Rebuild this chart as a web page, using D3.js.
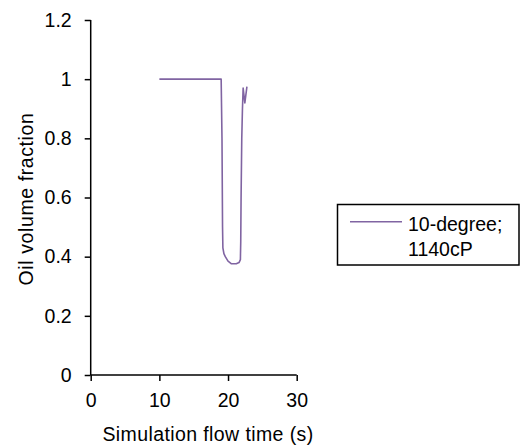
<!DOCTYPE html>
<html><head><meta charset="utf-8">
<script src="https://cdn.jsdelivr.net/npm/d3@7"></script>
<style>body{margin:0;background:#fff}svg{display:block}text{font-family:"Liberation Sans",Arial,sans-serif;fill:#000}</style>
</head><body><svg id="c" width="524" height="448"></svg>
<script>
const seriesName = ["10-degree;", "1140cP"];
const timeValues = [10, 19.0, 19.12, 19.2, 19.25, 19.4, 19.6, 20.0, 20.5, 21.2, 21.6, 21.8, 21.85, 21.9, 22.0, 22.1, 22.2, 22.45, 22.75];
const oilValues  = [1.0, 1.0, 0.8, 0.5, 0.43, 0.41, 0.40, 0.385, 0.376, 0.376, 0.38, 0.39, 0.45, 0.6, 0.8, 0.9, 0.97, 0.92, 0.975];
const xTicks = [0, 10, 20, 30];
const yTicks = [0, 0.2, 0.4, 0.6, 0.8, 1, 1.2];

const FS = 19.5;
const svg = d3.select("#c");
const x = d3.scaleLinear().domain([0, 30]).range([90.7, 296.7]);
const y = d3.scaleLinear().domain([0, 1.2]).range([375, 20]);

const xAxis = svg.append("g").attr("transform", "translate(0,375)")
  .call(d3.axisBottom(x).tickValues(xTicks).tickSize(6).tickPadding(12).tickFormat(d3.format("d")));
const yAxis = svg.append("g").attr("transform", "translate(90.7,0)")
  .call(d3.axisLeft(y).tickValues(yTicks).tickSize(6).tickPadding(13).tickFormat(d => String(d)));
[xAxis, yAxis].forEach(a => {
  a.selectAll("path").attr("stroke", "#000").attr("stroke-width", 1.5);
  a.selectAll("line").attr("stroke", "#000").attr("stroke-width", 1.5);
  a.selectAll("text").attr("font-size", FS).attr("font-family", '"Liberation Sans",Arial,sans-serif').attr("fill", "#000");
});
xAxis.select(".domain").attr("d", "M90.7,0H296.7");
yAxis.select(".domain").attr("d", "M0,20V375");

const pts = timeValues.map((t, i) => [t, oilValues[i]]);
svg.append("path").datum(pts)
  .attr("fill", "none").attr("stroke", "#8064A2").attr("stroke-width", 1.6)
  .attr("stroke-linejoin", "round")
  .attr("d", d3.line().x(d => x(d[0])).y(d => y(d[1])));

svg.append("text").attr("x", 208).attr("y", 441).attr("text-anchor", "middle")
  .attr("font-size", FS).attr("letter-spacing", 0.4).text("Simulation flow time (s)");
svg.append("text").attr("transform", "translate(33,199) rotate(-90)").attr("text-anchor", "middle")
  .attr("font-size", FS).attr("letter-spacing", 0.6).text("Oil volume fraction");

const lg = svg.append("g");
lg.append("rect").attr("x", 337.5).attr("y", 204.5).attr("width", 181.5).attr("height", 60.5)
  .attr("fill", "#fff").attr("stroke", "#000").attr("stroke-width", 1.5);
lg.append("line").attr("x1", 350).attr("x2", 402).attr("y1", 221.7).attr("y2", 221.7)
  .attr("stroke", "#8064A2").attr("stroke-width", 1.6);
seriesName.forEach((s, i) => {
  lg.append("text").attr("x", 408).attr("y", 231 + i * 25).attr("font-size", FS).text(s);
});
</script></body></html>
